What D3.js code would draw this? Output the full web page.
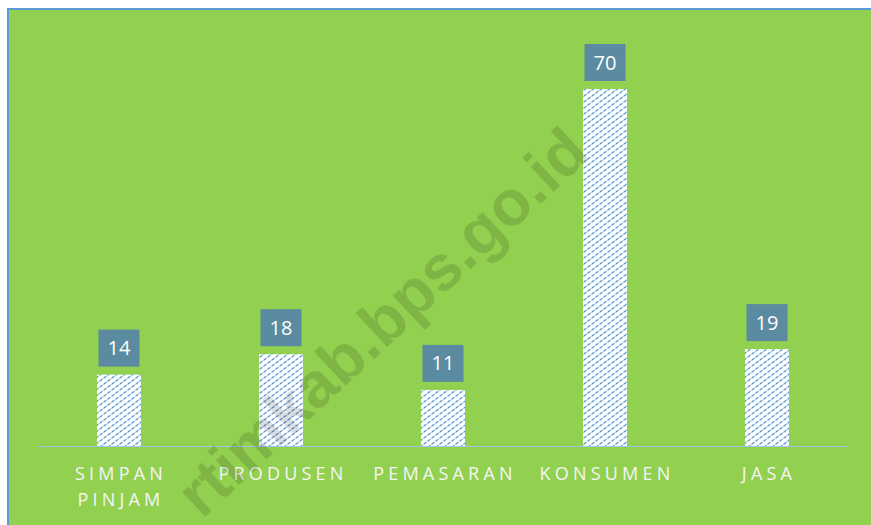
<!DOCTYPE html>
<html>
<head>
<meta charset="utf-8">
<script src="https://cdn.jsdelivr.net/npm/d3@7"></script>
<style>
  body { margin: 0; background: #ffffff; }
  svg { display: block; }
</style>
</head>
<body>
<div id="chart"></div>
<script>
// data
var categories = ["SIMPAN PINJAM", "PRODUSEN", "PEMASARAN", "KONSUMEN", "JASA"];
var values = [14, 18, 11, 70, 19];

var W = 871, H = 525;

var svg = d3.select("#chart")
  .append("svg")
    .attr("width", W)
    .attr("height", H);

// hatch pattern for the bars
var defs = svg.append("defs");
var pat = defs.append("pattern")
    .attr("id", "hatch")
    .attr("patternUnits", "userSpaceOnUse")
    .attr("width", 8)
    .attr("height", 6);
pat.append("rect").attr("width", 8).attr("height", 6).attr("fill", "#ffffff");
var hatchD = "M-4,9 L12,-3 M-4,3 L4,-3 M4,9 L12,3";
pat.append("path")
    .attr("d", hatchD)
    .attr("stroke", "#b4d2ee")
    .attr("stroke-width", 1.3);
pat.append("path")
    .attr("d", hatchD)
    .attr("stroke", "#5b9bd5")
    .attr("stroke-width", 1.3)
    .attr("stroke-dasharray", "2.5,2.5");

// chart area background + border
svg.append("rect")
    .attr("x", 8).attr("y", 9)
    .attr("width", W).attr("height", H)
    .attr("fill", "#92d050")
    .attr("stroke", "#5b9bd5")
    .attr("stroke-width", 2);

var x = d3.scaleBand()
    .domain(categories)
    .range([38, 848])
    .paddingInner(0.728)
    .paddingOuter(0.364);

var y = d3.scaleLinear()
    .domain([0, 70])
    .range([446, 89]);

// bars
svg.selectAll(".bar")
  .data(values)
  .enter().append("rect")
    .attr("class", "bar")
    .attr("x", (d, i) => x(categories[i]))
    .attr("y", d => y(d))
    .attr("width", x.bandwidth())
    .attr("height", d => y(0) - y(d))
    .attr("fill", "url(#hatch)");

// baseline
svg.append("line")
    .attr("x1", 38).attr("x2", 848)
    .attr("y1", y(0) + 0.5).attr("y2", y(0) + 0.5)
    .attr("stroke", "#9dc3e6")
    .attr("stroke-width", 1.2);

// value labels
var lbl = svg.selectAll(".lbl")
  .data(values)
  .enter().append("g")
    .attr("class", "lbl")
    .attr("transform", (d, i) =>
      "translate(" + (x(categories[i]) + x.bandwidth() / 2) + "," + (y(d) - 8) + ")");

lbl.append("rect")
    .attr("x", -20.5).attr("y", -37)
    .attr("width", 41).attr("height", 37)
    .attr("fill", "#5b8ba0");

lbl.append("text")
    .attr("y", -11.5)
    .attr("text-anchor", "middle")
    .attr("font-family", "Open Sans, sans-serif")
    .attr("font-size", 20)
    .attr("fill", "#ffffff")
    .text(d => d);

// category labels
var cat = svg.selectAll(".cat")
  .data(categories)
  .enter().append("text")
    .attr("class", "cat")
    .attr("x", d => x(d) + x.bandwidth() / 2)
    .attr("y", 480)
    .attr("text-anchor", "middle")
    .attr("font-family", "Open Sans, sans-serif")
    .attr("font-size", 18)
    .attr("letter-spacing", "4.2px")
    .attr("fill", "#f5f5f5");

cat.each(function (d) {
  var words = d === "SIMPAN PINJAM" ? ["SIMPAN", "PINJAM"] : [d];
  var t = d3.select(this);
  words.forEach(function (w, k) {
    t.append("tspan")
      .attr("x", x(d) + x.bandwidth() / 2 + 2)
      .attr("dy", k === 0 ? 0 : 26)
      .text(w);
  });
});

// watermark, drawn over the chart
svg.append("text")
    .attr("transform", "translate(592,156) rotate(-43)")
    .attr("text-anchor", "end")
    .attr("font-family", "Liberation Sans, Arial, sans-serif")
    .attr("font-weight", "bold")
    .attr("font-size", 64)
    .attr("fill", "#000000")
    .attr("fill-opacity", 0.13)
    .text("rtimkab.bps.go.id");
</script>
</body>
</html>
